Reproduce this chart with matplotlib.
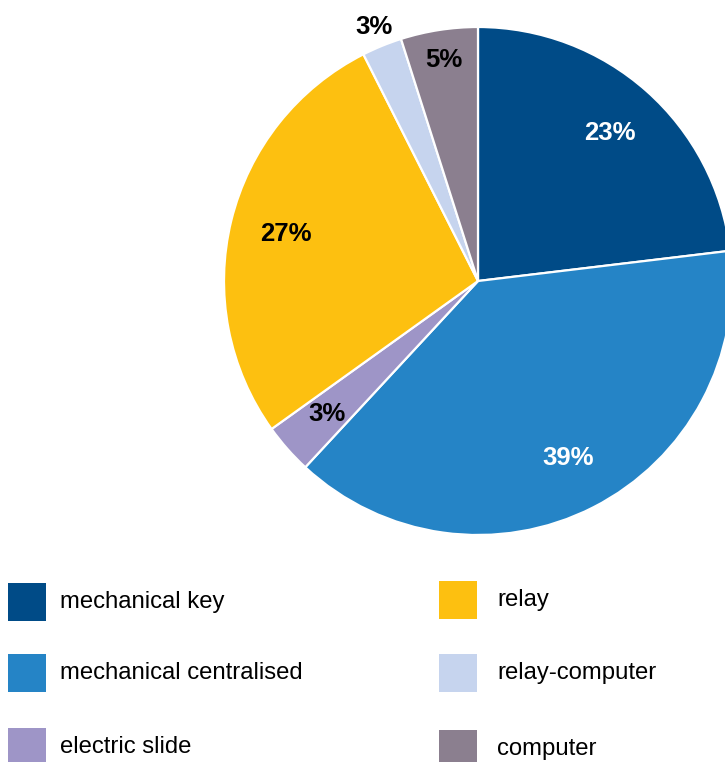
import numpy as np
import matplotlib.pyplot as plt
from matplotlib.patches import Rectangle

plt.rcParams['font.family'] = ['Liberation Sans', 'DejaVu Sans']

# Data
categories = ['mechanical key', 'mechanical centralised', 'electric slide',
              'relay', 'relay-computer', 'computer']
shares = [23.1, 38.8, 3.2, 27.45, 2.55, 4.9]
colors = ['#004B87', '#2584C6', '#9E95C7', '#FDC010', '#C6D4EE', '#8B7F8F']
label_colors = ['white', 'white', 'black', 'black', 'black', 'black']
label_dist = [0.78, 0.78, 0.79, 0.78, 1.08, 0.88]

W, H = 725, 762
fig = plt.figure(figsize=(W / 100, H / 100), dpi=100)

# Pie axes: 1 data unit = radius in pixels, centre placed at pixel (478, 281)
R = 254
cx, cy = 478, H - 281
ax = fig.add_axes([0, 0, 1, 1])
ax.axis('off')

wedges, texts, autotexts = ax.pie(
    shares, colors=colors, startangle=90, counterclock=False,
    autopct='%.0f%%', pctdistance=0.78,
    wedgeprops=dict(edgecolor='white', linewidth=1.6),
    textprops=dict(fontsize=18.5, fontweight='bold'))

# Move labels to their radial distance
for w, t, d, c in zip(wedges, autotexts, label_dist, label_colors):
    ang = np.deg2rad((w.theta1 + w.theta2) / 2)
    t.set_position((d * np.cos(ang), d * np.sin(ang)))
    t.set_color(c)
    t.set_ha('center')
    t.set_va('center')

ax.set_xlim(-cx / R, (W - cx) / R)
ax.set_ylim(-cy / R, (H - cy) / R)
ax.set_aspect('auto')

# Legend (two columns, three rows)
col_x = [8, 439]
text_x = [60, 497]
row_y = [[602, 673, 747], [600, 673, 749]]
for i, (name, col) in enumerate(zip(categories, colors)):
    c, r = divmod(i, 3)
    x0 = col_x[c]
    yc = H - row_y[c][r]
    fig.patches.append(Rectangle((x0 / W, (yc - 19) / H), 38 / W, 38 / H,
                                 transform=fig.transFigure, facecolor=col,
                                 edgecolor='none'))
    fig.text(text_x[c] / W, yc / H, name, fontsize=17.2, va='center',
             ha='left', color='black')

plt.savefig('out.png', dpi=100)
